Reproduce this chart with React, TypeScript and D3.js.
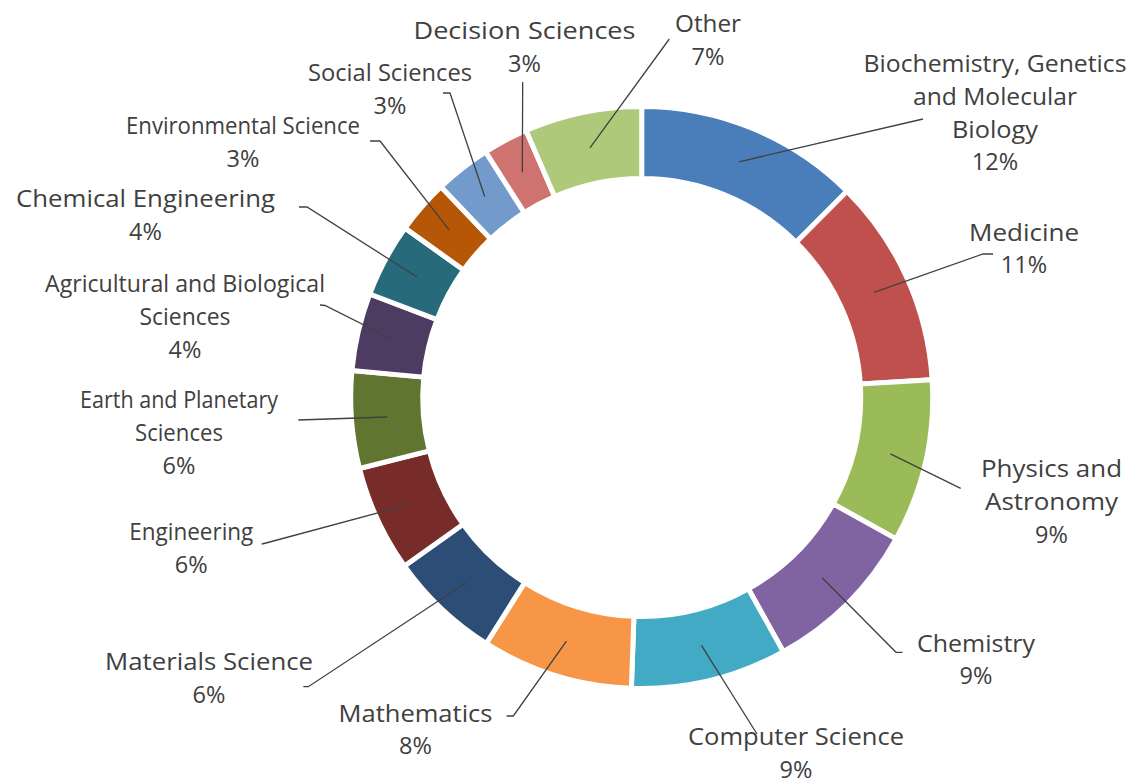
import React from "react";
import * as d3 from "d3";

const categories = [
  "Biochemistry, Genetics and Molecular Biology",
  "Medicine",
  "Physics and Astronomy",
  "Chemistry",
  "Computer Science",
  "Mathematics",
  "Materials Science",
  "Engineering",
  "Earth and Planetary Sciences",
  "Agricultural and Biological Sciences",
  "Chemical Engineering",
  "Environmental Science",
  "Social Sciences",
  "Decision Sciences",
  "Other",
];

const shares = [12.45, 11.56, 9.04, 8.83, 8.65, 8.4, 6.2, 5.9, 5.4, 4.3, 4.1, 3.0, 3.1, 2.5, 6.5];

const percentLabels = ["12%", "11%", "9%", "9%", "9%", "8%", "6%", "6%", "6%", "4%", "4%", "3%", "3%", "3%", "7%"];

const labelLines = [
  ["Biochemistry, Genetics", "and Molecular", "Biology"],
  ["Medicine"],
  ["Physics and", "Astronomy"],
  ["Chemistry"],
  ["Computer Science"],
  ["Mathematics"],
  ["Materials Science"],
  ["Engineering"],
  ["Earth and Planetary", "Sciences"],
  ["Agricultural and Biological", "Sciences"],
  ["Chemical Engineering"],
  ["Environmental Science"],
  ["Social Sciences"],
  ["Decision Sciences"],
  ["Other"],
];

const colors = [
  "#4a7ebb", "#c0504d", "#9bbb59", "#8064a2", "#43aac6", "#f79646",
  "#2c4d75", "#772c2a", "#5f7530", "#4d3b62", "#276a7c", "#b65708",
  "#729aca", "#cf7371", "#afc97a",
];

// label layout: centre x, first baseline y, line widths, leader path points (from label side)
const layout = [
  { x: 995, y: 72.3, w: [263, 164, 86], lead: [[923, 119]] },
  { x: 1024, y: 240.7, w: [110], lead: [[993, 254], [983, 254]] },
  { x: 1051.5, y: 477.3, w: [141, 133], lead: [[960.7, 488.3]] },
  { x: 976, y: 651.7, w: [118], lead: [[902.5, 652.3], [896, 652.3]] },
  { x: 796, y: 745, w: [216], lead: [[757, 734]] },
  { x: 415.5, y: 721.7, w: [154], lead: [[506.7, 716], [513.3, 716]] },
  { x: 209, y: 670, w: [208], lead: [[303.3, 686.7], [308.3, 686.7]] },
  { x: 191.3, y: 540, w: [124], lead: [[261.7, 544], [266, 543]] },
  { x: 179, y: 408.3, w: [198, 88], lead: [[298.3, 420]] },
  { x: 185, y: 292.3, w: [280, 91], lead: [[320, 305], [325, 305.5]] },
  { x: 145.5, y: 207, w: [259], lead: [[299, 207], [307, 207]] },
  { x: 243, y: 134, w: [234], lead: [[370, 141], [380, 141]] },
  { x: 390, y: 81, w: [164], lead: [[443, 93], [450, 93]] },
  { x: 524.5, y: 39, w: [222], lead: [[522.7, 82]] },
  { x: 708, y: 32.3, w: [66], lead: [[669.3, 39]] },
];

const W = 1131;
const H = 779;
const cx = 641.7;
const cy = 397.5;
const outerR = 291;
const innerR = 219;
const lineH = 32.6;

export default function App() {
  const pie = d3
    .pie<number>()
    .sort(null)
    .value((d) => d)
    .startAngle(0)
    .endAngle(2 * Math.PI);
  const arcs = pie(shares);
  const arc = d3.arc<d3.PieArcDatum<number>>().innerRadius(innerR).outerRadius(outerR);
  const mid = d3
    .arc<d3.PieArcDatum<number>>()
    .innerRadius((innerR + outerR) / 2)
    .outerRadius((innerR + outerR) / 2);
  const line = d3.line();

  return (
    <svg
      width={W}
      height={H}
      style={{ position: "absolute", left: 0, top: 0, background: "#fff" }}
      fontFamily="'Open Sans', 'Noto Sans', sans-serif"
    >
      <g transform={`translate(${cx},${cy})`}>
        {arcs.map((a, i) => (
          <path key={categories[i]} d={arc(a) || ""} fill={colors[i]} stroke="#fff" strokeWidth={5} strokeLinejoin="miter" />
        ))}
      </g>
      {arcs.map((a, i) => {
        const c = mid.centroid(a);
        const pts: [number, number][] = [
          ...layout[i].lead.map((p) => [p[0], p[1]] as [number, number]),
          [cx + c[0], cy + c[1]],
        ];
        return (
          <path key={"l" + i} d={line(pts) || ""} fill="none" stroke="#404040" strokeWidth={1.3} />
        );
      })}
      {layout.map((L, i) => {
        const lines = [...labelLines[i], percentLabels[i]];
        return (
          <text key={"t" + i} fill="#404040" fontSize={23.5} textAnchor="middle">
            {lines.map((s, j) => (
              <tspan
                key={j}
                x={L.x}
                y={L.y + j * lineH}
                {...(L.w[j] ? { textLength: L.w[j], lengthAdjust: "spacingAndGlyphs" } : {})}
              >
                {s}
              </tspan>
            ))}
          </text>
        );
      })}
    </svg>
  );
}
